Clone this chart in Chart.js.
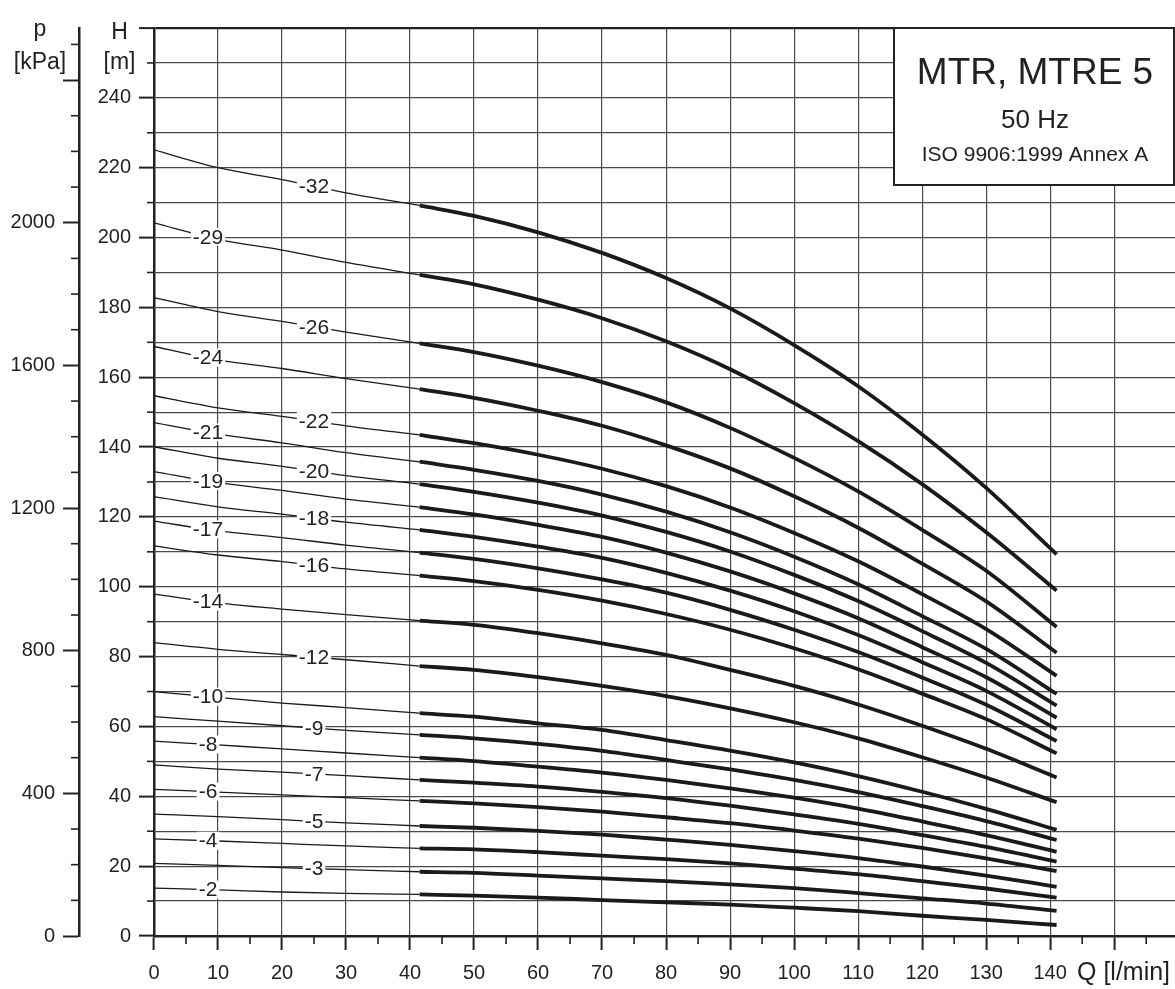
<!DOCTYPE html>
<html>
<head>
<meta charset="utf-8">
<script src="https://cdn.jsdelivr.net/npm/chart.js@4.4.0/dist/chart.umd.min.js"></script>
<style>
  html, body { margin: 0; padding: 0; background: #fff; }
</style>
</head>
<body>
<canvas id="myChart" width="1175" height="989"></canvas>
<script>
// flow points (l/min): thin part of the curve, then thick part
var qThin = [0, 10, 20, 30, 41.5];
var qThick = [41.5, 50, 60, 70, 80, 90, 100, 110, 120, 130, 141];

// head H [m] per pump size, read at qThin then qThick (shared 41.5 point)
var h32 = [225.1, 220.0, 216.6, 212.8, 209.2, 206.2, 201.5, 195.6, 188.4, 179.7, 169.2, 157.4, 143.6, 128.3, 109.3];
var h29 = [204.2, 199.5, 196.4, 192.9, 189.3, 186.6, 182.2, 176.9, 170.3, 162.3, 152.6, 141.7, 129.4, 115.6, 98.9];
var h26 = [182.8, 178.8, 176.0, 172.9, 169.7, 167.2, 163.3, 158.6, 152.8, 145.5, 136.9, 127.3, 116.3, 104.6, 88.5];
var h24 = [168.8, 165.0, 162.5, 159.6, 156.6, 154.1, 150.4, 146.1, 140.5, 133.9, 125.9, 116.9, 106.6, 95.8, 81.1];
var h22 = [154.7, 151.2, 148.8, 146.1, 143.5, 141.1, 137.8, 133.8, 128.8, 122.7, 115.4, 107.3, 97.9, 87.9, 74.5];
var h21 = [147.0, 143.7, 141.2, 138.4, 135.8, 133.5, 130.3, 126.4, 121.5, 115.6, 108.6, 100.7, 91.6, 82.2, 69.3];
var h20 = [140.1, 136.8, 134.5, 131.8, 129.4, 127.2, 124.1, 120.4, 115.7, 110.1, 103.4, 95.9, 87.3, 78.2, 66.0];
var h19 = [133.0, 129.8, 127.6, 125.1, 122.8, 120.7, 117.7, 114.3, 109.8, 104.4, 98.1, 91.0, 82.7, 74.1, 62.5];
var h18 = [125.8, 122.9, 120.8, 118.5, 116.3, 114.3, 111.5, 108.3, 104.0, 98.9, 93.0, 86.2, 78.4, 70.2, 59.2];
var h17 = [118.8, 116.0, 114.1, 111.9, 109.8, 108.0, 105.3, 102.1, 98.3, 93.4, 87.7, 81.3, 74.0, 66.2, 55.8];
var h16 = [111.7, 109.1, 107.2, 105.1, 103.2, 101.6, 99.1, 96.0, 92.2, 87.7, 82.4, 76.4, 69.4, 62.1, 52.3];
var h14 = [97.9, 95.4, 93.6, 92.0, 90.3, 89.1, 86.7, 83.8, 80.5, 76.2, 71.6, 66.3, 60.2, 53.6, 45.4];
var h12 = [84.0, 82.1, 80.6, 79.1, 77.3, 76.2, 74.1, 71.6, 68.7, 65.2, 61.2, 56.6, 51.2, 45.4, 38.3];
var h10 = [70.0, 68.3, 66.7, 65.4, 63.8, 62.8, 60.9, 59.0, 56.1, 53.1, 49.7, 45.8, 41.3, 36.4, 30.4];
var h9 = [62.8, 61.5, 60.2, 58.9, 57.6, 56.6, 55.0, 53.0, 50.4, 47.7, 44.7, 41.2, 37.2, 32.9, 27.5];
var h8 = [55.8, 54.7, 53.6, 52.4, 51.1, 50.1, 48.5, 46.8, 44.7, 42.3, 39.6, 36.5, 32.8, 28.9, 24.1];
var h7 = [49.0, 47.8, 46.9, 45.9, 44.7, 43.9, 42.8, 41.3, 39.5, 37.3, 34.8, 32.1, 28.9, 25.5, 21.3];
var h6 = [42.0, 41.2, 40.4, 39.6, 38.7, 38.0, 36.9, 35.6, 34.0, 32.3, 30.2, 27.9, 25.2, 22.2, 18.6];
var h5 = [34.9, 34.2, 33.3, 32.4, 31.5, 31.0, 30.1, 29.0, 27.6, 26.1, 24.3, 22.3, 19.9, 17.3, 14.1];
var h4 = [27.8, 27.2, 26.5, 25.8, 25.1, 24.8, 24.0, 23.0, 22.0, 20.8, 19.3, 17.7, 15.7, 13.6, 11.0];
var h3 = [20.8, 20.2, 19.6, 19.0, 18.4, 18.1, 17.3, 16.5, 15.7, 14.8, 13.7, 12.3, 10.8, 9.3, 7.2];
var h2 = [13.7, 13.2, 12.6, 12.2, 11.9, 11.55, 11.0, 10.3, 9.65, 9.0, 8.1, 7.1, 5.8, 4.6, 3.15];

var stages = [32, 29, 26, 24, 22, 21, 20, 19, 18, 17, 16, 14, 12, 10, 9, 8, 7, 6, 5, 4, 3, 2];
var heads = [h32, h29, h26, h24, h22, h21, h20, h19, h18, h17, h16, h14, h12, h10, h9, h8, h7, h6, h5, h4, h3, h2];
// where the "-n" label sits on the thin part (Q)
var labelQ = [25, 8.44, 25, 8.44, 25, 8.44, 25, 8.44, 25, 8.44, 25, 8.44, 25, 8.44, 25, 8.44, 25, 8.44, 25, 8.44, 25, 8.44];

// axis ticks
var pTicks = [0, 400, 800, 1200, 1600, 2000, 2400];   // kPa, major
var pLabelMax = 2000;
var xLabelMax = 140;
var hLabelMax = 240;
var hMax = 260;
var pMax = 2546;       // kPa equal to 260 m

var FONT = '"Liberation Sans", Arial, sans-serif';
Chart.defaults.font.family = FONT;
Chart.defaults.color = '#222';

var datasets = [];
heads.forEach(function (h) {
  datasets.push({
    data: qThin.map(function (q, i) { return { x: q, y: h[i] }; }),
    borderColor: '#1a1a1a', borderWidth: 1.3, pointRadius: 0,
    cubicInterpolationMode: 'monotone', yAxisID: 'y'
  });
  datasets.push({
    data: qThick.map(function (q, i) { return { x: q, y: h[i + 4] }; }),
    borderColor: '#1a1a1a', borderWidth: 3.8, pointRadius: 0,
    cubicInterpolationMode: 'monotone', yAxisID: 'y'
  });
});

function line(ctx, x1, y1, x2, y2) {
  ctx.beginPath(); ctx.moveTo(x1, y1); ctx.lineTo(x2, y2); ctx.stroke();
}

var stageLabels = {
  id: 'stageLabels',
  afterDatasetsDraw: function (chart) {
    var ctx = chart.ctx, x = chart.scales.x, y = chart.scales.y;
    ctx.save();
    ctx.font = '21px ' + FONT;
    ctx.textAlign = 'center';
    ctx.textBaseline = 'middle';
    stages.forEach(function (n, k) {
      var h = heads[k], q = labelQ[k], i = 0;
      while (i < qThin.length - 2 && qThin[i + 1] < q) i++;
      var t = (q - qThin[i]) / (qThin[i + 1] - qThin[i]);
      var hv = h[i] + t * (h[i + 1] - h[i]);
      var px = x.getPixelForValue(q), py = y.getPixelForValue(hv);
      var txt = '-' + n;
      var w = ctx.measureText(txt).width;
      ctx.fillStyle = '#fff';
      ctx.fillRect(px - w / 2 - 2, py - 9, w + 4, 18);
      ctx.fillStyle = '#222';
      ctx.fillText(txt, px, py + 1);
    });
    ctx.restore();
  },
  afterDraw: function (chart) {
    var ctx = chart.ctx, x = chart.scales.x, y = chart.scales.y, yP = chart.scales.yP;
    ctx.save();
    ctx.strokeStyle = '#222';
    ctx.lineWidth = 1.6;
    // minor ticks
    for (var q = 5; q < 160; q += 10) {
      var px = x.getPixelForValue(q);
      line(ctx, px, x.top, px, x.top + 8);
    }
    for (var v = 10; v < hMax; v += 20) {
      var py = y.getPixelForValue(v);
      line(ctx, y.right - 7, py, y.right, py);
    }
    for (var p = 100; p < pMax; p += 100) {
      if (p % 400 === 0) continue;
      var pp = yP.getPixelForValue(p);
      line(ctx, yP.right - 8, pp, yP.right, pp);
    }
    // axis headers
    ctx.fillStyle = '#222';
    ctx.textAlign = 'center';
    ctx.textBaseline = 'alphabetic';
    ctx.font = '23px ' + FONT;
    ctx.fillText('H', 119.5, 38.5);
    ctx.fillText('[m]', 119.5, 69);
    ctx.fillText('p', 40, 36);
    ctx.fillText('[kPa]', 40, 69);
    ctx.textAlign = 'left';
    ctx.font = '25px ' + FONT;
    ctx.fillText('Q [l/min]', 1077, 980);
    // title box
    var bx = 894, by = chart.chartArea.top, bw = 1175 - 1 - bx, bh = 185 - by;
    ctx.fillStyle = '#fff';
    ctx.fillRect(bx, by, bw, bh);
    ctx.lineWidth = 2;
    ctx.strokeRect(bx, by, bw, bh);
    ctx.fillStyle = '#222';
    ctx.textAlign = 'center';
    ctx.font = '37px ' + FONT;
    ctx.fillText('MTR, MTRE 5', 1035, 84);
    ctx.font = '26px ' + FONT;
    ctx.fillText('50 Hz', 1035, 128);
    ctx.font = '21px ' + FONT;
    ctx.fillText('ISO 9906:1999 Annex A', 1035, 161);
    ctx.restore();
  }
};

var gridColor = '#4a4a4a';

new Chart(document.getElementById('myChart'), {
  type: 'line',
  data: { datasets: datasets },
  options: {
    responsive: false,
    animation: false,
    events: [],
    layout: { padding: { top: 28, right: 0, left: 0, bottom: 0 } },
    plugins: { legend: { display: false }, tooltip: { enabled: false } },
    scales: {
      x: {
        type: 'linear', position: 'bottom', min: 0, max: 159.5,
        afterFit: function (s) { s.height = 53; },
        border: { color: '#222', width: 2.5 },
        grid: { color: gridColor, lineWidth: 1.2, tickLength: 14, tickColor: '#222', tickWidth: 2 },
        ticks: {
          stepSize: 10, includeBounds: false, padding: 11, maxRotation: 0, autoSkip: false,
          font: { size: 20 },
          callback: function (v) { return v <= xLabelMax ? v : ''; }
        }
      },
      y: {
        type: 'linear', position: 'left', min: 0, max: hMax, weight: 0,
        afterFit: function (s) { s.width = 75; },
        border: { color: '#222', width: 2.5 },
        grid: {
          color: function (c) { return c.tick && c.tick.value === hMax ? '#222' : gridColor; },
          lineWidth: function (c) { return c.tick && c.tick.value === hMax ? 2.2 : 1.2; },
          tickLength: 15,
          tickColor: function (c) { return c.tick && c.tick.value % 20 === 0 ? '#222' : 'rgba(0,0,0,0)'; },
          tickWidth: 2
        },
        ticks: {
          stepSize: 10, includeBounds: false, padding: 8, autoSkip: false,
          font: { size: 20 },
          callback: function (v) { return (v % 20 === 0 && v <= hLabelMax) ? v : ''; }
        }
      },
      yP: {
        type: 'linear', position: 'left', min: 0, max: pMax, weight: 1,
        afterFit: function (s) { s.width = 79; },
        afterBuildTicks: function (s) { s.ticks = pTicks.map(function (v) { return { value: v }; }); },
        border: { color: '#222', width: 2.5 },
        grid: { drawOnChartArea: false, tickLength: 16, tickColor: '#222', tickWidth: 2 },
        ticks: {
          padding: 8, autoSkip: false,
          font: { size: 20 },
          callback: function (v) { return v <= pLabelMax ? v : ''; }
        }
      }
    }
  },
  plugins: [stageLabels]
});
</script>
</body>
</html>
